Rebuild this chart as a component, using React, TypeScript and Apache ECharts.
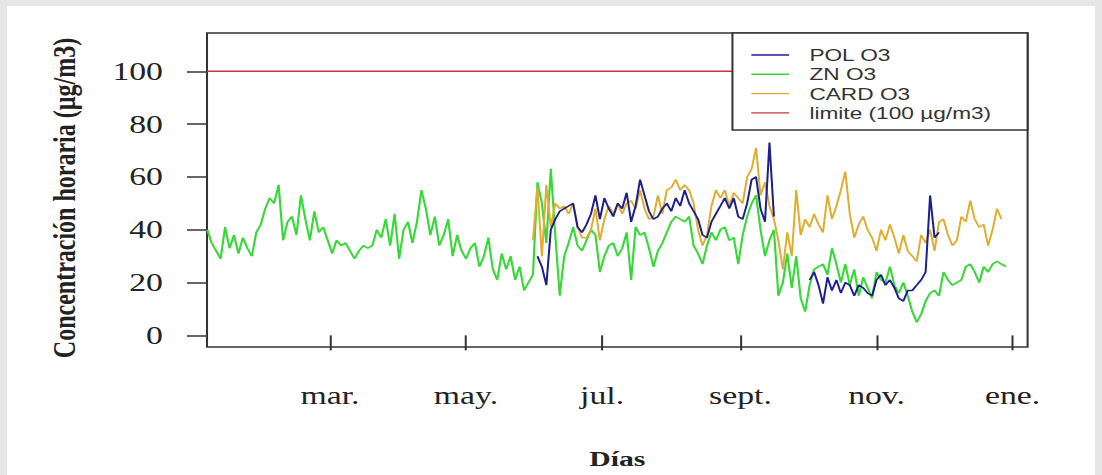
import React, { useEffect, useRef } from 'react';
import * as echarts from 'echarts';

// The reference picture is horizontally stretched; the chart is drawn at a narrower
// width and stretched with CSS so text and strokes look the same.
const SCALE_X = 1.35;
const PAGE_W = 1102;
const PAGE_H = 475;
const INNER_W = PAGE_W / SCALE_X;

// x axis: day of the year (0 = 1 Jan)
const X_MIN = 3.9;
const X_MAX = 371.7;
const MONTH_TICKS = [59, 120, 181, 243, 304, 365];
const MONTH_LABELS = ['mar.', 'may.', 'jul.', 'sept.', 'nov.', 'ene.'];

const Y_MIN = -4.4;
const Y_MAX = 114.5;
const Y_TICKS = [0, 20, 40, 60, 80, 100];

const STEP_DAYS = 2;

const ZN_START = 4;
const ZN_O3 = [
  40, 35, 32, 29, 41, 33, 38, 31, 37, 33, 30, 39, 42, 48, 52, 50, 57, 36, 43, 45,
  38, 53, 44, 36, 47, 39, 41, 36, 31, 36, 34, 35, 32, 29, 32, 34, 33,
  34, 40, 37, 44, 34, 46, 29, 40, 43, 35, 43, 55, 48, 38, 45, 34, 38, 44, 30,
  38, 32, 29, 33, 35, 26, 30, 37, 25, 21, 31, 25, 30, 21, 26, 17, 20, 23,
  58, 50, 35, 63, 38, 15, 30, 35, 41, 34, 32, 36, 40, 38, 24, 30, 34, 35, 30,
  33, 39, 21, 41, 38, 39, 33, 26, 32, 35, 39, 43, 45, 44, 43, 45, 34, 31, 27,
  34, 39, 36, 40, 41, 36, 37, 27, 38, 45, 50, 53, 40, 30, 36, 40, 15,
  20, 31, 18, 30, 14, 9, 19, 25, 26, 27, 23, 33, 27, 20, 27, 19, 25, 15, 22,
  18, 14, 24, 21, 20, 26, 19, 16, 20, 15, 9, 5, 8, 13, 16, 17, 15, 24, 21, 19,
  20, 21, 26, 27, 24, 20, 26, 24, 27, 28, 27, 26,
];

const CARD_START = 150;
const CARD_O3 = [
  36, 56, 30, 57, 41, 50, 48, 49, 46, 50, 41, 37, 37, 40, 48, 36, 44, 49, 46, 50,
  46, 50, 51, 48, 55, 48, 44, 45, 53, 46, 55, 56, 59, 55, 57, 55, 50, 40, 34, 38,
  49, 55, 52, 55, 49, 54, 52, 50, 60, 63, 71, 53, 58, 49, 44, 36, 25, 39, 30, 55,
  38, 44, 41, 46, 42, 39, 53, 44, 49, 55, 62, 46, 37, 42, 45, 40, 37, 32, 40, 36,
  42, 37, 31, 38, 32, 30, 28, 38, 35, 40, 32, 43, 44, 38, 34, 36, 45, 43, 51, 44,
  41, 42, 34, 40, 48, 44,
];

const POL_START = 152;
const POL_O3 = [
  30, 26, 19, 40, 44, 47, 48, 49, 50, 41, 39, 42, 46, 53, 44, 52, 48, 45, 50, 48,
  54, 43, 49, 59, 53, 47, 44, 45, 48, 50, 47, 52, 49, 55, 50, 47, 44, 38, 37, 43,
  46, 49, 52, 48, 52, 45, 44, 50, 59, 60, 48, 43, 73, 45,
  null, null, null, null, null, null, null,
  21, 24, 19, 12, 22, 17, 21, 16, 20, 19, 15, 19, 18, 16, 15, 21, 23, 19, 21, 18,
  14, 13, 17, 17, 19, 21, 24, 53, 37, 39,
];

const LIMIT = 100;

const NAMES = ['POL O3', 'ZN O3', 'CARD O3', 'limite (100 µg/m3)'];
const COLORS = {
  pol: '#1f1f8c',
  zn: '#38d838',
  card: '#deae31',
  limit: '#c83636',
};

const LINE_ICON = 'path://M0 0H40V2H0Z';

function toPairs(start: number, values: (number | null)[]) {
  return values.map((v, i) => [start + i * STEP_DAYS, v]);
}

export default function App() {
  const ref = useRef<HTMLDivElement>(null);

  useEffect(() => {
    if (!ref.current) return;
    const chart = echarts.init(ref.current, null, { renderer: 'svg' });
    const serif = 'Liberation Serif';
    chart.setOption({
      animation: false,
      backgroundColor: 'transparent',
      grid: {
        left: 207 / SCALE_X,
        right: (PAGE_W - 1028) / SCALE_X,
        top: 33,
        bottom: PAGE_H - 348,
        show: true,
        borderColor: '#333',
        borderWidth: 1.5,
        backgroundColor: 'transparent',
      },
      legend: {
        data: NAMES.map((name) => ({ name, icon: LINE_ICON })),
        orient: 'vertical',
        right: (PAGE_W - 1028) / SCALE_X,
        top: 33,
        padding: [13.5, 27, 8.5, 14],
        itemWidth: 28,
        itemHeight: 17,
        itemGap: 2.3,
        backgroundColor: '#ffffff',
        borderColor: '#333',
        borderWidth: 1.5,
        borderRadius: 0,
        selectedMode: false,
        textStyle: {
          fontFamily: 'Liberation Sans',
          fontSize: 16.8,
          color: '#333',
          lineHeight: 17,
          padding: [0, 0, 0, 10],
        },
      },
      xAxis: {
        type: 'value',
        min: X_MIN,
        max: X_MAX,
        name: 'Días',
        nameLocation: 'middle',
        nameGap: 101,
        nameTextStyle: {
          fontFamily: serif,
          fontWeight: 'bold',
          fontSize: 22,
          color: '#222',
        },
        axisLine: { show: false },
        splitLine: { show: false },
        axisTick: {
          show: true,
          length: 15,
          customValues: MONTH_TICKS,
          lineStyle: { color: '#333', width: 1.5 },
        },
        axisLabel: {
          customValues: MONTH_TICKS,
          margin: 36,
          fontFamily: serif,
          fontSize: 25,
          color: '#222',
          formatter: (v: number) => MONTH_LABELS[MONTH_TICKS.indexOf(Math.round(v))] ?? '',
        },
      },
      yAxis: {
        type: 'value',
        min: Y_MIN,
        max: Y_MAX,
        name: 'Concentración horaria (µg/m3)',
        nameLocation: 'middle',
        nameRotate: 90,
        nameGap: 94,
        nameTextStyle: {
          fontFamily: serif,
          fontWeight: 'bold',
          fontSize: 24,
          color: '#222',
          padding: [0, 16, 0, 0],
        },
        axisLine: { show: false },
        splitLine: { show: false },
        axisTick: {
          show: true,
          length: 20 / SCALE_X,
          customValues: Y_TICKS,
          lineStyle: { color: '#333', width: 1.5 },
        },
        axisLabel: {
          customValues: Y_TICKS,
          margin: 32.6,
          fontFamily: serif,
          fontSize: 25,
          color: '#222',
        },
      },
      series: [
        {
          name: 'ZN O3',
          type: 'line',
          data: toPairs(ZN_START, ZN_O3),
          symbol: 'none',
          lineStyle: { color: COLORS.zn, width: 1.6 },
          itemStyle: { color: COLORS.zn },
          z: 2,
        },
        {
          name: 'CARD O3',
          type: 'line',
          data: toPairs(CARD_START, CARD_O3),
          symbol: 'none',
          lineStyle: { color: COLORS.card, width: 1.5 },
          itemStyle: { color: COLORS.card },
          z: 3,
        },
        {
          name: 'POL O3',
          type: 'line',
          data: toPairs(POL_START, POL_O3),
          symbol: 'none',
          connectNulls: false,
          lineStyle: { color: COLORS.pol, width: 1.5 },
          itemStyle: { color: COLORS.pol },
          z: 4,
        },
        {
          name: 'limite (100 µg/m3)',
          type: 'line',
          data: [[X_MIN, LIMIT], [X_MAX, LIMIT]],
          symbol: 'none',
          lineStyle: { color: COLORS.limit, width: 1.5 },
          itemStyle: { color: COLORS.limit },
          z: 1,
        },
      ],
    });
    return () => chart.dispose();
  }, []);

  return (
    <div
      style={{
        position: 'fixed',
        left: 0,
        top: 0,
        width: PAGE_W,
        height: PAGE_H,
        background: '#e6e6e6',
        overflow: 'hidden',
      }}
    >
      <div
        style={{
          position: 'absolute',
          left: 7,
          top: 6,
          width: PAGE_W - 14,
          height: PAGE_H - 6,
          background: '#ffffff',
        }}
      />
      <div
        ref={ref}
        style={{
          position: 'absolute',
          left: 0,
          top: 0,
          width: INNER_W,
          height: PAGE_H,
          transform: `scaleX(${SCALE_X})`,
          transformOrigin: '0 0',
        }}
      />
    </div>
  );
}
